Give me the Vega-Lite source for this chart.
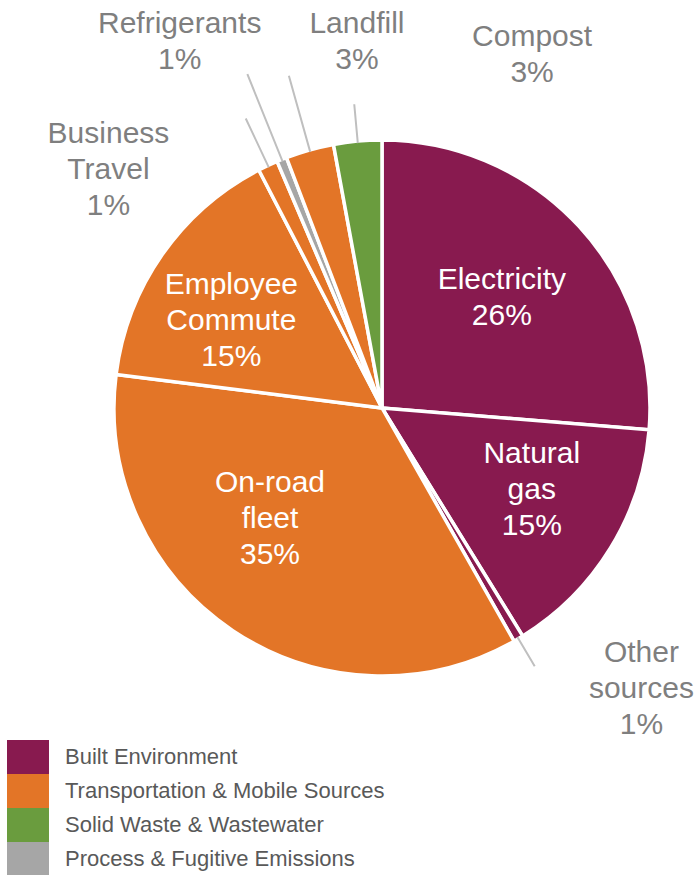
{
  "$schema": "https://vega.github.io/schema/vega-lite/v6.json",
  "width": 634,
  "height": 816,
  "autosize": {"type": "none"},
  "padding": {"left": 65, "top": 0, "right": 0, "bottom": 59},
  "background": "white",
  "config": {
    "view": {"stroke": null},
    "text": {"font": "Liberation Sans", "fontSize": 30, "lineHeight": 36, "align": "center", "baseline": "middle", "lineBreak": "\n"}
  },
  "data": {
    "values": [
      {"category": "Electricity", "label": "Electricity", "group": "Built Environment", "value": 26.3},
      {"category": "Natural gas", "label": "Natural\ngas", "group": "Built Environment", "value": 14.9},
      {"category": "Other sources", "label": "Other\nsources", "group": "Built Environment", "value": 0.6},
      {"category": "On-road fleet", "label": "On-road\nfleet", "group": "Transportation & Mobile Sources", "value": 35.2},
      {"category": "Employee Commute", "label": "Employee\nCommute", "group": "Transportation & Mobile Sources", "value": 15.4},
      {"category": "Business Travel", "label": "Business\nTravel", "group": "Transportation & Mobile Sources", "value": 1.2},
      {"category": "Refrigerants", "label": "Refrigerants", "group": "Process & Fugitive Emissions", "value": 0.6},
      {"category": "Landfill", "label": "Landfill", "group": "Transportation & Mobile Sources", "value": 2.9},
      {"category": "Compost", "label": "Compost", "group": "Solid Waste & Wastewater", "value": 2.9}
    ]
  },
  "transform": [
    {"window": [{"op": "sum", "field": "value", "as": "v1"}], "frame": [null, 0]},
    {"calculate": "datum.v1 - datum.value", "as": "v0"},
    {"calculate": "(datum.v0 + datum.v1) / 2", "as": "mid"},
    {"calculate": "datum.label + '\\n' + format(datum.value, '.0f') + '%'", "as": "text"}
  ],
  "layer": [
    {
      "mark": {"type": "arc", "outerRadius": 268, "stroke": "white", "strokeWidth": 3.5},
      "encoding": {
        "theta": {"field": "v0", "type": "quantitative", "scale": {"domain": [0, 100], "range": [0, 6.283185307179586]}},
        "theta2": {"field": "v1"},
        "color": {
          "field": "group",
          "type": "nominal",
          "scale": {
            "domain": ["Built Environment", "Transportation & Mobile Sources", "Solid Waste & Wastewater", "Process & Fugitive Emissions"],
            "range": ["#881A4F", "#E37527", "#6A9C3E", "#A6A6A6"]
          },
          "legend": {
            "orient": "none",
            "legendX": -54,
            "legendY": 740,
            "title": null,
            "symbolType": "M-1.235,-1H1.235V1H-1.235Z",
            "symbolSize": 1156,
            "symbolStrokeWidth": 0,
            "symbolOpacity": 1,
            "labelFont": "Liberation Sans",
            "labelFontSize": 22,
            "labelColor": "#595959",
            "labelOffset": 20,
            "rowPadding": 0,
            "padding": 0,
            "labelLimit": 500,
            "encode": {"labels": {"update": {"dy": {"value": 3}}}}
          }
        }
      }
    },
    {
      "transform": [{"filter": "datum.category === 'Refrigerants'"}],
      "mark": {"type": "arc", "innerRadius": 266, "outerRadius": 360, "stroke": "#BFBFBF", "strokeWidth": 2, "fillOpacity": 0},
      "encoding": {"theta": {"field": "mid", "type": "quantitative", "scale": {"domain": [0, 100]}}, "theta2": {"field": "mid"}}
    },
    {
      "transform": [{"filter": "datum.category === 'Landfill'"}],
      "mark": {"type": "arc", "innerRadius": 266, "outerRadius": 345, "stroke": "#BFBFBF", "strokeWidth": 2, "fillOpacity": 0},
      "encoding": {"theta": {"field": "mid", "type": "quantitative", "scale": {"domain": [0, 100]}}, "theta2": {"field": "mid"}}
    },
    {
      "transform": [{"filter": "datum.category === 'Compost'"}],
      "mark": {"type": "arc", "innerRadius": 266, "outerRadius": 305, "stroke": "#BFBFBF", "strokeWidth": 2, "fillOpacity": 0},
      "encoding": {"theta": {"field": "mid", "type": "quantitative", "scale": {"domain": [0, 100]}}, "theta2": {"field": "mid"}}
    },
    {
      "transform": [{"filter": "datum.category === 'Business Travel'"}],
      "mark": {"type": "arc", "innerRadius": 266, "outerRadius": 320, "stroke": "#BFBFBF", "strokeWidth": 2, "fillOpacity": 0},
      "encoding": {"theta": {"field": "mid", "type": "quantitative", "scale": {"domain": [0, 100]}}, "theta2": {"field": "mid"}}
    },
    {
      "transform": [{"filter": "datum.category === 'Other sources'"}],
      "mark": {"type": "arc", "innerRadius": 266, "outerRadius": 300, "stroke": "#BFBFBF", "strokeWidth": 2, "fillOpacity": 0},
      "encoding": {"theta": {"field": "mid", "type": "quantitative", "scale": {"domain": [0, 100]}}, "theta2": {"field": "mid"}}
    },
    {
      "transform": [{"filter": "datum.category === 'Electricity'"}],
      "mark": {"type": "text", "radius": 163, "dx": 0, "dy": -18, "color": "white"},
      "encoding": {"theta": {"field": "mid", "type": "quantitative", "scale": {"domain": [0, 100]}}, "text": {"field": "text"}}
    },
    {
      "transform": [{"filter": "datum.category === 'Natural gas'"}],
      "mark": {"type": "text", "radius": 171, "dx": 4, "dy": -43, "color": "white"},
      "encoding": {"theta": {"field": "mid", "type": "quantitative", "scale": {"domain": [0, 100]}}, "text": {"field": "text"}}
    },
    {
      "transform": [{"filter": "datum.category === 'On-road fleet'"}],
      "mark": {"type": "text", "radius": 158, "dx": -24, "dy": -56, "color": "white"},
      "encoding": {"theta": {"field": "mid", "type": "quantitative", "scale": {"domain": [0, 100]}}, "text": {"field": "text"}}
    },
    {
      "transform": [{"filter": "datum.category === 'Employee Commute'"}],
      "mark": {"type": "text", "radius": 174, "dx": -8, "dy": -23, "color": "white"},
      "encoding": {"theta": {"field": "mid", "type": "quantitative", "scale": {"domain": [0, 100]}}, "text": {"field": "text"}}
    },
    {
      "transform": [{"filter": "datum.category === 'Refrigerants'"}],
      "mark": {"type": "text", "radius": 418, "dx": -46, "dy": 4, "color": "#7F7F7F"},
      "encoding": {"theta": {"field": "mid", "type": "quantitative", "scale": {"domain": [0, 100]}}, "text": {"field": "text"}}
    },
    {
      "transform": [{"filter": "datum.category === 'Landfill'"}],
      "mark": {"type": "text", "radius": 367, "dx": 74, "dy": -31, "color": "#7F7F7F"},
      "encoding": {"theta": {"field": "mid", "type": "quantitative", "scale": {"domain": [0, 100]}}, "text": {"field": "text"}}
    },
    {
      "transform": [{"filter": "datum.category === 'Compost'"}],
      "mark": {"type": "text", "radius": 384, "dx": 185, "dy": 11, "color": "#7F7F7F"},
      "encoding": {"theta": {"field": "mid", "type": "quantitative", "scale": {"domain": [0, 100]}}, "text": {"field": "text"}}
    },
    {
      "transform": [{"filter": "datum.category === 'Business Travel'"}],
      "mark": {"type": "text", "radius": 363, "dx": -119, "dy": 54, "color": "#7F7F7F"},
      "encoding": {"theta": {"field": "mid", "type": "quantitative", "scale": {"domain": [0, 100]}}, "text": {"field": "text"}}
    },
    {
      "transform": [{"filter": "datum.category === 'Other sources'"}],
      "mark": {"type": "text", "radius": 382, "dx": 65, "dy": -84, "color": "#7F7F7F"},
      "encoding": {"theta": {"field": "mid", "type": "quantitative", "scale": {"domain": [0, 100]}}, "text": {"field": "text"}}
    }
  ]
}
